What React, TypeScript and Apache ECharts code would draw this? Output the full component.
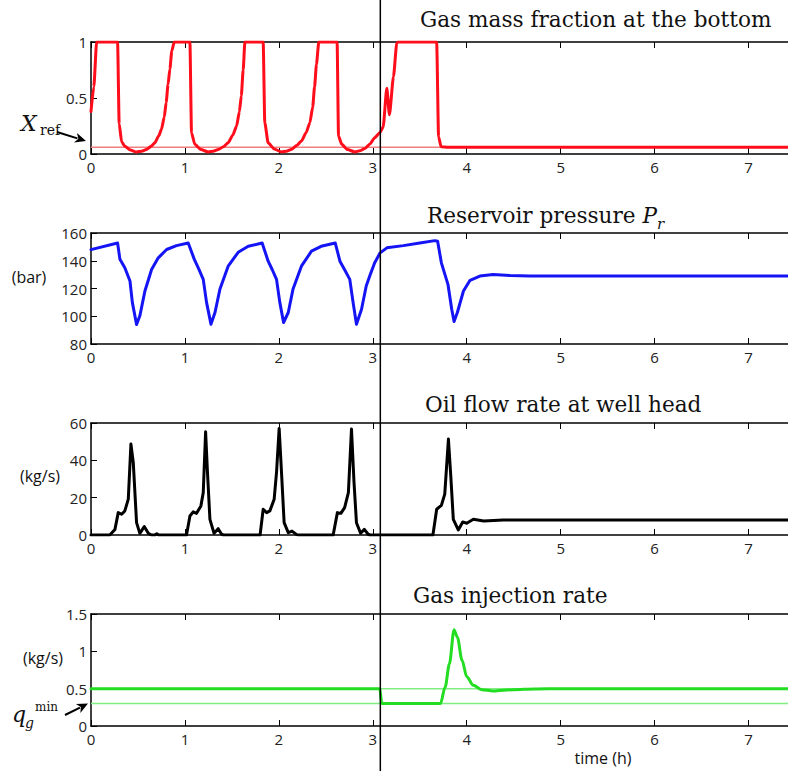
import React, { useEffect, useRef } from "react";
import * as echarts from "echarts";

const W = 788;
const H = 771;
const T_MAX = 7.42;
const SWITCH_T = 3.08;

// Gas mass fraction at the bottom
const FRAC_T = [0, 0.03, 0.06, 0.283, 0.3, 0.326, 0.36, 0.42, 0.485, 0.54, 0.59, 0.64, 0.68, 0.72, 0.75, 0.78, 0.8, 0.82, 0.84, 0.86, 0.886,
  1.053, 1.07, 1.105, 1.17, 1.248, 1.3, 1.355, 1.41, 1.46, 1.51, 1.55, 1.58, 1.6, 1.62, 1.638,
  1.833, 1.85, 1.886, 1.95, 2.03, 2.08, 2.13, 2.19, 2.24, 2.29, 2.33, 2.36, 2.38, 2.4, 2.425,
  2.62, 2.635, 2.67, 2.73, 2.81, 2.86, 2.915, 2.97, 3.02, 3.075, 3.11, 3.149, 3.177, 3.22, 3.255, 3.27,
  3.68, 3.7, 3.727, 3.8, 7.42];
const FRAC_V = [0.38, 0.6, 1, 1, 0.27, 0.11, 0.07, 0.035, 0.018, 0.025, 0.04, 0.07, 0.1, 0.16, 0.22, 0.33, 0.46, 0.62, 0.76, 0.92, 1,
  1, 0.19, 0.086, 0.04, 0.018, 0.025, 0.04, 0.065, 0.1, 0.17, 0.25, 0.38, 0.52, 0.75, 1,
  1, 0.28, 0.1, 0.045, 0.018, 0.025, 0.04, 0.075, 0.116, 0.19, 0.28, 0.42, 0.6, 0.8, 1,
  1, 0.16, 0.086, 0.04, 0.018, 0.028, 0.048, 0.09, 0.146, 0.19, 0.24, 0.586, 0.35, 0.69, 0.99, 1,
  1, 0.155, 0.065, 0.06, 0.06];
const X_REF = 0.06;

// Reservoir pressure (bar)
const PR_T = [0, 0.283, 0.308, 0.36, 0.415, 0.44, 0.485, 0.52, 0.574, 0.645, 0.716, 0.805, 0.91, 1.035,
  1.1, 1.142, 1.195, 1.23, 1.277, 1.32, 1.372, 1.46, 1.567, 1.674, 1.822,
  1.886, 1.93, 1.975, 2.01, 2.05, 2.1, 2.15, 2.24, 2.347, 2.45, 2.6,
  2.65, 2.7, 2.755, 2.79, 2.826, 2.88, 2.93, 2.97, 3.02, 3.078, 3.15, 3.325, 3.5, 3.66, 3.69,
  3.73, 3.8, 3.84, 3.865, 3.9, 3.965, 4.035, 4.14, 4.28, 4.46, 4.67, 7.42];
const PR_V = [148, 152.8, 141, 135, 125.4, 110, 94, 100.3, 118.2, 133.7, 142.1, 148.1, 150.9, 152.8,
  141, 134.9, 126.6, 110, 94.3, 102.7, 119.4, 136.1, 146.1, 150.4, 152.8,
  139.7, 133.5, 126.6, 110, 95.5, 102.7, 119.4, 136.1, 146.9, 150.4, 152.8,
  139.7, 133.5, 126.6, 110, 94.3, 105, 121.8, 129.5, 138.5, 145.7, 149.3, 150.9, 152.8, 154.5, 154,
  138.5, 123, 105, 96.2, 102.7, 118.2, 125.9, 129, 130.1, 129.4, 129, 129];

// Oil flow rate at well head (kg/s)
const OIL_T = [0, 0.2, 0.255, 0.29, 0.326, 0.36, 0.397, 0.425, 0.45, 0.485, 0.52, 0.567, 0.61, 0.645, 0.68, 0.7, 0.72,
  1.017, 1.053, 1.088, 1.124, 1.17, 1.195, 1.22, 1.24, 1.266, 1.31, 1.354, 1.39, 1.41,
  1.8, 1.833, 1.87, 1.904, 1.95, 1.975, 2.003, 2.03, 2.056, 2.1, 2.14, 2.19, 2.21,
  2.578, 2.623, 2.66, 2.7, 2.74, 2.773, 2.8, 2.826, 2.87, 2.91, 2.95, 2.97,
  3.64, 3.68, 3.73, 3.766, 3.805, 3.83, 3.857, 3.91, 3.957, 4.0, 4.07, 4.18, 4.39, 7.42];
const OIL_V = [0, 0, 3, 12, 11.1, 12.9, 19.2, 48.7, 38.9, 6.6, 0.9, 4.5, 0.9, 0, 0, 0.7, 0,
  0, 10.2, 12.4, 11.6, 15.6, 22.7, 55.3, 33.5, 8.4, 0.9, 3.4, 0.4, 0,
  0, 13.8, 12, 12.9, 19.2, 33.5, 57.1, 31.7, 6.6, 1.3, 2.1, 0.2, 0,
  0, 12, 11.6, 14.7, 22.7, 56.8, 28.1, 6.6, 0.9, 3, 0.4, 0,
  0, 13.8, 15.9, 21.9, 51.4, 31.7, 8.4, 2.7, 7, 6.3, 8.4, 7.5, 8.1, 8.1];

// Gas injection rate (kg/s)
const GAS_T = [0, 3.075, 3.095, 3.72, 3.77, 3.815, 3.865, 3.9, 3.95, 4.0, 4.07, 4.16, 4.28, 4.5, 4.72, 5.0, 7.42];
const GAS_V = [0.5, 0.5, 0.3, 0.3, 0.52, 0.83, 1.29, 1.19, 0.88, 0.66, 0.545, 0.487, 0.469, 0.487, 0.496, 0.5, 0.5];
const QG_MIN = 0.3;
const QG_NOM = 0.5;

const TITLES = ["Gas mass fraction at the bottom", "Reservoir pressure {i|P}", "Oil flow rate at well head", "Gas injection rate"];
const UNITS = ["", "(bar)", "(kg/s)", "(kg/s)"];
const Y_MIN = [0, 80, 0, 0];
const Y_MAX = [1, 160, 60, 1.5];
const Y_STEP = [0.5, 20, 20, 0.5];

const zip = (a: number[], b: number[]) => a.map((t, i) => [t, b[i]]);

const GRIDS = [
  { left: 91, top: 42, height: 112, right: 0 },
  { left: 91, top: 233, height: 111, right: 0 },
  { left: 91, top: 423, height: 112, right: 0 },
  { left: 91, top: 614, height: 112, right: 0 },
];

const SANS = "Open Sans";
const SERIF = "DejaVu Serif";

function arrow(x1: number, y1: number, x2: number, y2: number) {
  const dx = x2 - x1, dy = y2 - y1;
  const len = Math.hypot(dx, dy);
  const ux = dx / len, uy = dy / len;
  const hl = 11, hw = 5;
  const bx = x2 - ux * hl, by = y2 - uy * hl;
  return [
    { type: "line", shape: { x1, y1, x2: bx + ux * 2, y2: by + uy * 2 }, style: { stroke: "#000", lineWidth: 2 }, z: 50 },
    {
      type: "polygon",
      shape: { points: [[x2, y2], [bx - uy * hw, by + ux * hw], [bx + ux * 3, by + uy * 3], [bx + uy * hw, by - ux * hw]] },
      style: { fill: "#000" }, z: 50,
    },
  ];
}

export default function App() {
  const ref = useRef<HTMLDivElement>(null);
  useEffect(() => {
    document.body.style.margin = "0";
    const chart = echarts.init(ref.current!, null, { renderer: "svg" });

    const xAxis: any[] = [];
    const yAxis: any[] = [];
    GRIDS.forEach((_, i) => {
      const base = {
        type: "value", gridIndex: i, min: 0, max: T_MAX, interval: 1,
        axisLine: { show: true, onZero: false, lineStyle: { color: "#000", width: 1.5 } },
        axisTick: { show: true, inside: true, length: 6, lineStyle: { color: "#000", width: 1 } },
        splitLine: { show: false },
      };
      xAxis.push({
        ...base, position: "bottom",
        axisLabel: {
          show: true, showMaxLabel: false, color: "#222", fontFamily: SANS, fontSize: 15, margin: 5,
          formatter: (v: number) => (Number.isInteger(v) ? String(v) : ""),
        },
      });
      xAxis.push({ ...base, position: "top", axisLabel: { show: false } });
      yAxis.push({
        type: "value", gridIndex: i, min: Y_MIN[i], max: Y_MAX[i], interval: Y_STEP[i],
        axisLine: { show: true, onZero: false, lineStyle: { color: "#000", width: 1.5 } },
        axisTick: { show: true, inside: true, length: 6, lineStyle: { color: "#000", width: 1 } },
        axisLabel: { color: "#222", fontFamily: SANS, fontSize: 15, margin: 4 },
        splitLine: { show: false },
      });
    });

    const refLine = (i: number, v: number, color: string) => ({
      type: "line", xAxisIndex: 2 * i, yAxisIndex: i, data: [[0, v], [T_MAX, v]],
      showSymbol: false, silent: true, z: 1, lineStyle: { color, width: 1.5 },
    });
    const dataLine = (i: number, data: number[][], color: string, smooth: number) => ({
      type: "line", xAxisIndex: 2 * i, yAxisIndex: i, data, smooth, smoothMonotone: "x",
      showSymbol: false, silent: true, z: 3, lineStyle: { color, width: 3, join: "round", cap: "round" }, itemStyle: { color },
    });

    const series = [
      refLine(0, X_REF, "#f08080"),
      dataLine(0, zip(FRAC_T, FRAC_V), "#ff0d1a", 0.2),
      dataLine(1, zip(PR_T, PR_V), "#1414f5", 0),
      dataLine(2, zip(OIL_T, OIL_V), "#000000", 0),
      refLine(3, QG_NOM, "#80ee80"),
      refLine(3, QG_MIN, "#80ee80"),
      dataLine(3, zip(GAS_T, GAS_V), "#22dd22", 0.3),
    ];

    chart.setOption({
      animation: false,
      grid: GRIDS,
      xAxis,
      yAxis,
      series,
    });

    const xs = chart.convertToPixel({ xAxisIndex: 0 }, SWITCH_T) as number;
    const xTimeLabel = chart.convertToPixel({ xAxisIndex: 6 }, 5.45) as number;

    const titleX = [420, 427, 425, 413];
    const titleY = [19, 215, 404, 595];
    const unitX = [0, 29, 40, 43];
    const unitY = [0, 277, 476, 658];

    const graphic: any[] = [];
    graphic.push({
      type: "line", shape: { x1: xs, y1: 0, x2: xs, y2: H }, style: { stroke: "#000", lineWidth: 1.5 }, z: 100,
    });
    TITLES.forEach((t, i) => {
      graphic.push({
        type: "text", x: titleX[i], y: titleY[i], z: 50,
        style: {
          text: t, fill: "#111", font: `21.6px "${SERIF}"`, align: "left", verticalAlign: "middle",
          rich: { i: { fontStyle: "italic", fontFamily: SERIF, fontSize: 21.6, fill: "#111" } },
        },
      });
      if (UNITS[i]) {
        graphic.push({
          type: "text", x: unitX[i], y: unitY[i], z: 50,
          style: { text: UNITS[i], fill: "#111", font: `16px "${SANS}"`, align: "center", verticalAlign: "middle" },
        });
      }
    });
    // subscript r of P_r
    graphic.push({
      type: "text", x: 657, y: 224, z: 50,
      style: { text: "r", fill: "#111", font: `italic 15px "${SERIF}"`, align: "left", verticalAlign: "middle" },
    });
    // X_ref annotation
    graphic.push({
      type: "text", x: 21, y: 123, z: 50,
      style: { text: "X", fill: "#111", font: `italic 22px "${SERIF}"`, align: "left", verticalAlign: "middle" },
    });
    graphic.push({
      type: "text", x: 40, y: 130, z: 50,
      style: { text: "ref", fill: "#111", font: `14px "${SERIF}"`, align: "left", verticalAlign: "middle" },
    });
    graphic.push(...arrow(57, 132, 86, 141));
    // q_g^min annotation
    graphic.push({
      type: "text", x: 12, y: 714, z: 50,
      style: { text: "q", fill: "#111", font: `italic 22px "${SERIF}"`, align: "left", verticalAlign: "middle" },
    });
    graphic.push({
      type: "text", x: 25, y: 723, z: 50,
      style: { text: "g", fill: "#111", font: `italic 14px "${SERIF}"`, align: "left", verticalAlign: "middle" },
    });
    graphic.push({
      type: "text", x: 35, y: 707, z: 50,
      style: { text: "min", fill: "#111", font: `12px "${SERIF}"`, align: "left", verticalAlign: "middle" },
    });
    graphic.push(...arrow(65, 715, 88, 703.5));
    // x axis name
    graphic.push({
      type: "text", x: xTimeLabel, y: 758, z: 50,
      style: { text: "time (h)", fill: "#111", font: `16px "${SANS}"`, align: "center", verticalAlign: "middle" },
    });

    chart.setOption({ graphic });

    return () => chart.dispose();
  }, []);
  return <div ref={ref} style={{ width: W, height: H }} />;
}
